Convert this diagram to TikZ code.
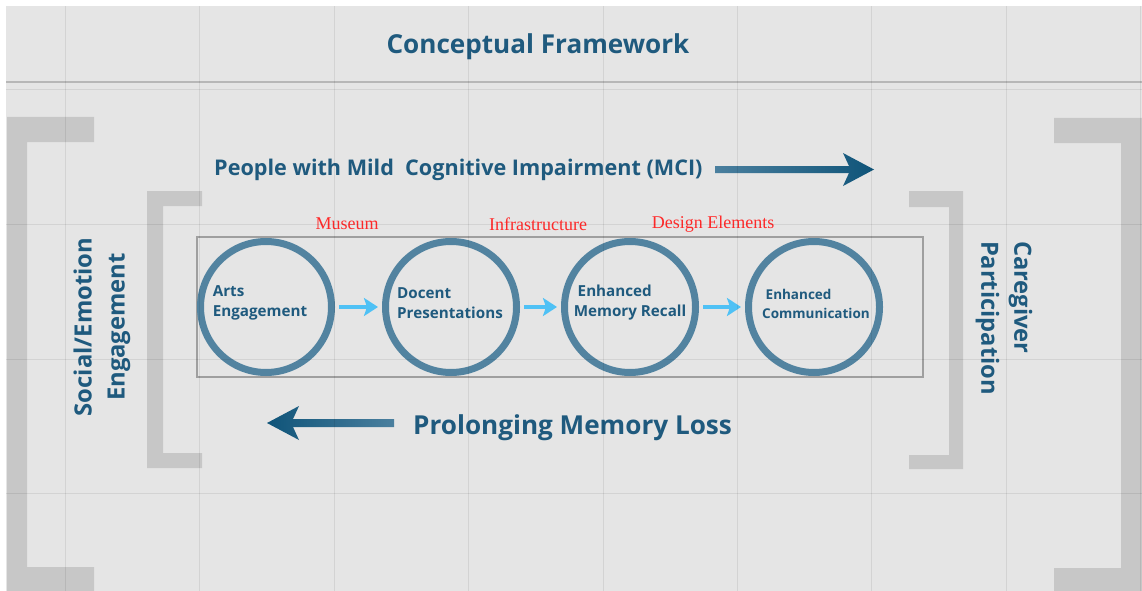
\documentclass[tikz,border=0pt]{standalone}
\usepackage{fontspec}
\setmainfont{Open Sans}
\newfontfamily\redserif{Liberation Serif}
\usetikzlibrary{arrows.meta}
\definecolor{bgray}{HTML}{E5E5E5}
\definecolor{brk}{HTML}{C7C7C7}
\definecolor{dblue}{HTML}{1F5A7E}
\definecolor{ring}{HTML}{5283A0}
\definecolor{lblue}{HTML}{4FC1F5}
\definecolor{redlab}{HTML}{FF2A2A}
\definecolor{arrdark}{HTML}{0F5479}
\definecolor{arrlight}{HTML}{4A7F9E}
\tikzset{
  bracketbox/.style={fill=brk, draw=none},
  ringnode/.style={circle, draw=ring, line width=7pt, minimum size=131pt, inner sep=0pt},
  ringtext/.style={text=dblue, font=\bfseries\fontsize{15.2}{20}\selectfont, align=left, inner sep=0pt},
  headtext/.style={text=dblue, font=\bfseries, inner sep=0pt},
  redtext/.style={text=redlab, font=\redserif\fontsize{18}{20}\selectfont, inner sep=0pt},
  flowarrow/.style={draw=lblue, line width=4pt, -{Stealth[length=14pt,width=18pt,inset=3pt]}, shorten <=4pt, shorten >=4pt},
  gridline/.style={draw=black, draw opacity=0.08, line width=1pt}
}
\begin{document}
\begin{tikzpicture}[x=1pt,y=-1pt]
\useasboundingbox (0,0) rectangle (1142,591);
\fill[white] (0,0) rectangle (1142,591);
\fill[bgray] (6,6) rectangle (1142,591);
% title separator
\draw[draw=black, draw opacity=0.2, line width=2.5pt] (6,82) -- (1142,82);
% brackets
\fill[bracketbox] (7,117) -- (94,117) -- (94,142) -- (27,142) -- (27,567) -- (94,567) -- (94,591) -- (7,591) -- cycle;
\fill[bracketbox] (1142,118) -- (1054,118) -- (1054,143) -- (1121,143) -- (1121,568) -- (1054,568) -- (1054,591) -- (1142,591) -- cycle;
\fill[bracketbox] (147,191) -- (202,191) -- (202,206) -- (163,206) -- (163,453) -- (202,453) -- (202,468) -- (147,468) -- cycle;
\fill[bracketbox] (963,191) -- (909,191) -- (909,207) -- (949,207) -- (949,455) -- (909,455) -- (909,469) -- (963,469) -- cycle;
% inner frame
\draw[draw=black, draw opacity=0.3, line width=2pt] (197,237) rectangle (923,377);
% title
\node[headtext, font=\bfseries\fontsize{26.1}{30}\selectfont] (title) at (538,47) {Conceptual Framework};
\node[headtext, font=\bfseries\fontsize{21.6}{24}\selectfont, anchor=west] (mci) at (214,170) {People with Mild\ \ Cognitive Impairment (MCI)};
\node[headtext, font=\bfseries\fontsize{26.1}{30}\selectfont, anchor=west] (loss) at (413,428) {Prolonging Memory Loss};
% big arrows
\shade[left color=arrlight, right color=arrdark] (715,166) -- (849,166) -- (843,153) -- (874,169.5) -- (843,186) -- (849,173) -- (715,173) -- cycle;
\shade[left color=arrdark, right color=arrlight] (394,419) -- (293,419) -- (299,406) -- (267,423) -- (299,440) -- (293,427) -- (394,427) -- cycle;
% side texts
\node[headtext, font=\bfseries\fontsize{23.8}{33}\selectfont, align=center, rotate=90] (social) at (102,327) {Social/Emotion\\Engagement};
\node[headtext, font=\bfseries\fontsize{23.7}{33}\selectfont, align=left, rotate=-90] (care) at (1004,318) {Caregiver\\Participation};
% red labels
\node[redtext] (museum) at (347,224) {Museum};
\node[redtext] (infra) at (538,224) {Infrastructure};
\node[redtext] (design) at (713,224) {Design Elements};
% circles
\node[ringnode] (c1) at (266,307) {};
\node[ringnode] (c2) at (451,307) {};
\node[ringnode] (c3) at (630,307) {};
\node[ringnode] (c4) at (814,307) {};
\node[ringtext] (t1) at (260,303) {Arts\\Engagement};
\node[ringtext] (t2) at (450,303) {Docent\\Presentations};
\node[ringtext] (t3) at (630,303) {\ Enhanced\\Memory Recall};
\node[ringtext, font=\bfseries\fontsize{13.5}{19}\selectfont] (t4) at (816,304) {\ Enhanced\\Communication};
\draw[flowarrow] (c1) -- (c2);
\draw[flowarrow] (c2) -- (c3);
\draw[flowarrow] (c3) -- (c4);
% grid
\foreach \gx in {65,199.5,334,468,603,737,871,1006,1140} {\draw[gridline] (\gx,6) -- (\gx,591);}
\foreach \gy in {90,224.5,359,493.5} {\draw[gridline] (6,\gy) -- (1142,\gy);}
\end{tikzpicture}
\end{document}
